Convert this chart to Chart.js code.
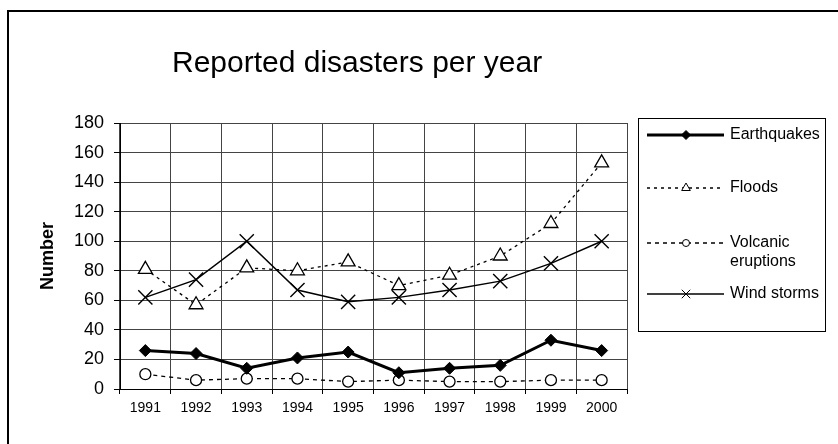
<!DOCTYPE html>
<html>
<head>
<meta charset="utf-8">
<title>Reported disasters per year</title>
<script src="https://cdn.jsdelivr.net/npm/chart.js@4/dist/chart.umd.min.js"></script>
<style>
  html, body { margin: 0; padding: 0; background: #fff; }
  canvas { display: block; }
</style>
</head>
<body>
<canvas id="chart" width="838" height="444"></canvas>
<script>
// Reported disasters per year, 1991-2000
const years = ['1991', '1992', '1993', '1994', '1995', '1996', '1997', '1998', '1999', '2000'];
const earthquakes = [26, 24, 14, 21, 25, 11, 14, 16, 33, 26];
const floods = [81, 57, 82, 80, 86, 70, 77, 90, 112, 153];
const volcanicEruptions = [10, 6, 7, 7, 5, 6, 5, 5, 6, 6];
const windStorms = [62, 74, 100, 67, 59, 62, 67, 73, 85, 100];
const yMin = 0, yMax = 180, yStep = 20;

const FONT = "'Liberation Sans', Arial, Helvetica, sans-serif";
const INK = '#000';

// small marker painter shared by the legend
function paintMarker(ctx, style, x, y, r, fill, lw) {
  ctx.save();
  ctx.setLineDash([]);
  ctx.lineWidth = lw;
  ctx.strokeStyle = INK;
  ctx.fillStyle = fill;
  ctx.beginPath();
  if (style === 'rectRot') {
    ctx.moveTo(x - r, y); ctx.lineTo(x, y - r); ctx.lineTo(x + r, y); ctx.lineTo(x, y + r); ctx.closePath();
    ctx.fill(); ctx.stroke();
  } else if (style === 'triangle') {
    const h = r * Math.sqrt(3) / 2;
    ctx.moveTo(x, y - r); ctx.lineTo(x + h, y + r / 2); ctx.lineTo(x - h, y + r / 2); ctx.closePath();
    ctx.fill(); ctx.stroke();
  } else if (style === 'circle') {
    ctx.arc(x, y, r, 0, Math.PI * 2);
    ctx.fill(); ctx.stroke();
  } else if (style === 'crossRot') {
    const d = r * Math.SQRT1_2;
    ctx.moveTo(x - d, y - d); ctx.lineTo(x + d, y + d);
    ctx.moveTo(x + d, y - d); ctx.lineTo(x - d, y + d);
    ctx.stroke();
  }
  ctx.restore();
}

// outer frame + title
const frameAndTitle = {
  id: 'frameAndTitle',
  beforeDraw(chart) {
    const ctx = chart.ctx;
    ctx.save();
    ctx.fillStyle = '#fff';
    ctx.fillRect(0, 0, chart.width, chart.height);
    ctx.strokeStyle = INK;
    ctx.lineWidth = 2;
    ctx.strokeRect(8, 11, chart.width + 10, chart.height + 10);
    ctx.restore();
  },
  afterDraw(chart) {
    const ctx = chart.ctx;
    ctx.save();
    ctx.fillStyle = INK;
    ctx.font = '30px ' + FONT;
    ctx.textAlign = 'left';
    ctx.textBaseline = 'alphabetic';
    ctx.fillText('Reported disasters per year', 172, 72);
    ctx.restore();
  }
};

// boxed legend with line samples and markers
const boxedLegend = {
  id: 'boxedLegend',
  afterDraw(chart) {
    const ctx = chart.ctx;
    const box = { x: 638.5, y: 118.5, w: 187, h: 213 };
    const rowY = [135, 188, 243, 294];
    const lineH = 19, textX = 730, maxText = 825 - textX - 2;
    ctx.save();
    ctx.strokeStyle = INK;
    ctx.lineWidth = 1;
    ctx.strokeRect(box.x, box.y, box.w, box.h);
    ctx.font = '16px ' + FONT;
    ctx.textBaseline = 'middle';
    ctx.textAlign = 'left';
    chart.data.datasets.forEach((ds, k) => {
      // wrap label to the box width
      const words = ds.label.split(' ');
      const lines = [];
      let cur = '';
      words.forEach(w => {
        const t = cur ? cur + ' ' + w : w;
        if (ctx.measureText(t).width > maxText && cur) { lines.push(cur); cur = w; } else { cur = t; }
      });
      lines.push(cur);
      const cy = rowY[k];
      // line sample
      ctx.save();
      ctx.strokeStyle = INK;
      ctx.lineWidth = ds.borderWidth;
      ctx.setLineDash(ds.borderDash || []);
      ctx.beginPath();
      ctx.moveTo(647, cy);
      ctx.lineTo(724, cy);
      ctx.stroke();
      ctx.restore();
      paintMarker(ctx, ds.pointStyle, 686, cy, ds.legendRadius, ds.pointBackgroundColor, 1);
      ctx.fillStyle = INK;
      lines.forEach((ln, i) => ctx.fillText(ln, textX, cy + i * lineH));
    });
    ctx.restore();
  }
};

const gridColor = '#444';

new Chart(document.getElementById('chart'), {
  type: 'line',
  data: {
    labels: years,
    datasets: [
      {
        label: 'Earthquakes', data: earthquakes,
        borderColor: INK, borderWidth: 3, borderDash: [],
        pointStyle: 'rectRot', pointRadius: 6, pointBackgroundColor: INK, pointBorderColor: INK, pointBorderWidth: 1,
        legendRadius: 4.5
      },
      {
        label: 'Floods', data: floods,
        borderColor: INK, borderWidth: 1.3, borderDash: [3, 4],
        pointStyle: 'triangle', pointRadius: 8, pointBackgroundColor: '#fff', pointBorderColor: INK, pointBorderWidth: 1.3,
        legendRadius: 5
      },
      {
        label: 'Volcanic eruptions', data: volcanicEruptions,
        borderColor: INK, borderWidth: 1.3, borderDash: [4, 4],
        pointStyle: 'circle', pointRadius: 5.5, pointBackgroundColor: '#fff', pointBorderColor: INK, pointBorderWidth: 1.3,
        legendRadius: 3.5
      },
      {
        label: 'Wind storms', data: windStorms,
        borderColor: INK, borderWidth: 1.5, borderDash: [],
        pointStyle: 'crossRot', pointRadius: 10, pointBackgroundColor: '#fff', pointBorderColor: INK, pointBorderWidth: 1.4,
        legendRadius: 6
      }
    ]
  },
  options: {
    responsive: false,
    animation: false,
    devicePixelRatio: 1,
    layout: { padding: { top: 123, right: 211, bottom: 0, left: 0 } },
    elements: { line: { tension: 0, fill: false }, point: { hoverRadius: 6 } },
    plugins: {
      legend: { display: false },
      title: { display: false },
      tooltip: { enabled: false }
    },
    scales: {
      x: {
        type: 'category',
        offset: true,
        grid: { offset: true, color: gridColor, lineWidth: 1, drawTicks: true, tickLength: 5, tickColor: INK },
        border: { display: true, color: INK, width: 1 },
        ticks: { color: INK, font: { family: FONT, size: 14 }, padding: 6, maxRotation: 0, autoSkip: false },
        afterFit(scale) { scale.height = 55; }
      },
      y: {
        min: yMin, max: yMax,
        grid: { color: gridColor, lineWidth: 1, drawTicks: true, tickLength: 6, tickColor: INK },
        border: { display: true, color: INK, width: 1 },
        ticks: { stepSize: yStep, color: INK, font: { family: FONT, size: 18 }, padding: 10 },
        title: {
          display: true, text: 'Number', color: INK,
          font: { family: FONT, size: 18, weight: 'bold' },
          padding: { top: 37, bottom: 0 }
        },
        afterFit(scale) { scale.width = 120; }
      }
    }
  },
  plugins: [frameAndTitle, boxedLegend]
});
</script>
</body>
</html>
